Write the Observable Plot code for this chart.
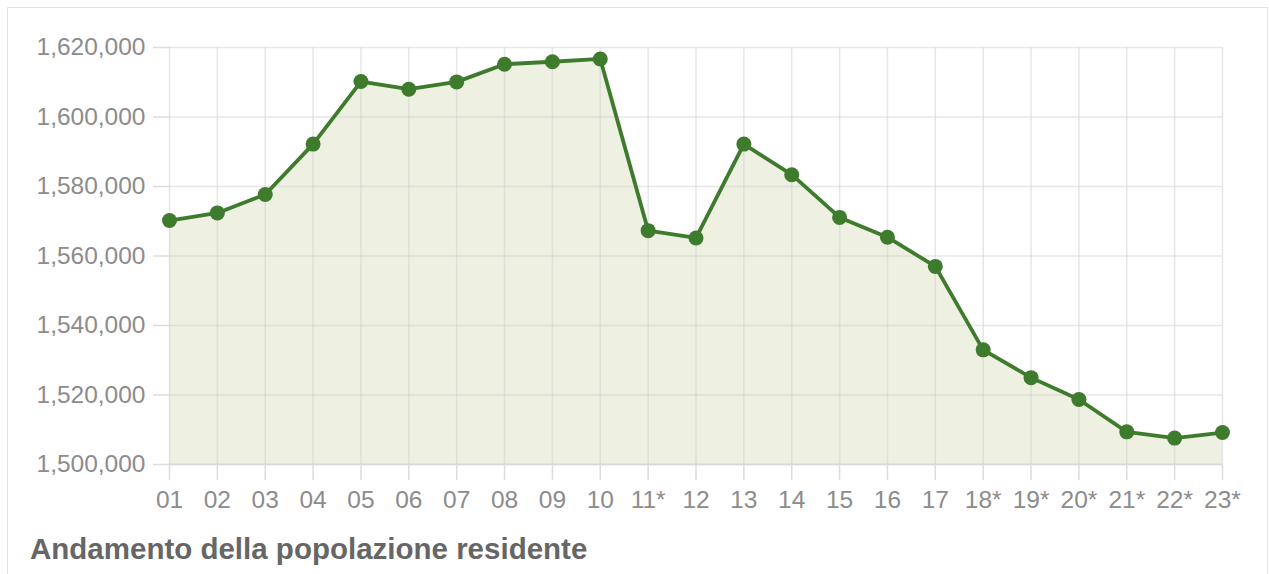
<!DOCTYPE html>
<html>
<head>
<meta charset="utf-8">
<script src="https://cdn.jsdelivr.net/npm/d3@7"></script>
<script src="https://cdn.jsdelivr.net/npm/@observablehq/plot@0.6"></script>
<style>
  html, body { margin: 0; padding: 0; background: #fff; }
  body { width: 1269px; height: 574px; position: relative; overflow: hidden; font-family: "Liberation Sans", Arial, sans-serif; }
  #frame { position: absolute; left: 7px; top: 7px; width: 1259px; height: 600px; border: 1.5px solid #dfe4ea; }
  #chart { position: absolute; left: 0; top: 0; }
  #title { position: absolute; left: 30px; top: 532px; font-size: 29.5px; font-weight: bold; color: #666; white-space: nowrap; line-height: 33px; }
</style>
</head>
<body>
<div id="frame"></div>
<div id="chart"></div>
<div id="title">Andamento della popolazione residente</div>
<script>
const years = ["01","02","03","04","05","06","07","08","09","10","11*","12","13","14","15","16","17","18*","19*","20*","21*","22*","23*"];
const population = [1570200, 1572400, 1577700, 1592200, 1610200, 1608000, 1610100, 1615200, 1615900, 1616700, 1567300, 1565200, 1592200, 1583400, 1571100, 1565400, 1557000, 1533000, 1525000, 1518700, 1509400, 1507600, 1509200];
const yTicks = [1500000, 1520000, 1540000, 1560000, 1580000, 1600000, 1620000];

const idx = years.map((_, i) => i);
const data = years.map((y, i) => ({i, year: y, value: population[i]}));
const base = yTicks[0];

const green = "#3e7b2c";
const chart = Plot.plot({
  width: 1269,
  height: 530,
  marginLeft: 169,
  marginRight: 47,
  marginTop: 47,
  marginBottom: 66,
  style: {fontFamily: "Liberation Sans, Arial, sans-serif", fontSize: "24.5px", color: "#8c8c8c", background: "transparent", overflow: "visible"},
  x: {type: "linear", domain: [0, years.length - 1], label: null},
  y: {domain: [yTicks[0], yTicks[yTicks.length - 1]], label: null},
  marks: [
    Plot.areaY(data, {x: "i", y1: base, y2: "value", fill: "#eef0e2"}),
    Plot.gridX(idx, {x: d => d, stroke: "#cfcfcf", strokeOpacity: 0.5, strokeWidth: 1.5}),
    Plot.gridY(yTicks, {y: d => d, stroke: "#cfcfcf", strokeOpacity: 0.5, strokeWidth: 1.5}),
    Plot.axisX(idx, {x: d => d, tickSize: 16, tickPadding: 10, stroke: "#dcdcdc", strokeWidth: 1.5, tickFormat: i => years[i], label: null, fill: "#8c8c8c"}),
    Plot.axisY(yTicks, {y: d => d, tickSize: 16, tickPadding: 8, stroke: "#dcdcdc", strokeWidth: 1.5, tickFormat: d3.format(","), label: null, fill: "#8c8c8c"}),
    Plot.ruleY([base], {stroke: "#d8d8d8", strokeWidth: 1.5}),
    Plot.lineY(data, {x: "i", y: "value", stroke: green, strokeWidth: 3.8}),
    Plot.dot(data, {x: "i", y: "value", r: 7.5, fill: green, stroke: "none"})
  ]
});
document.getElementById("chart").appendChild(chart);
</script>
</body>
</html>
